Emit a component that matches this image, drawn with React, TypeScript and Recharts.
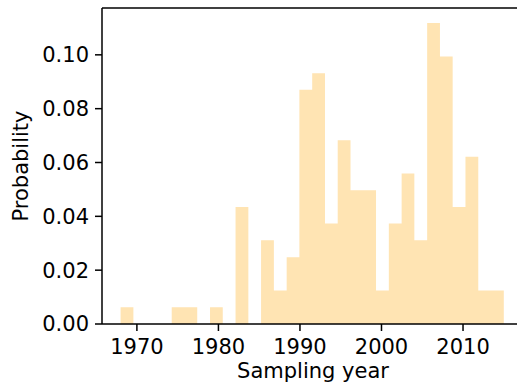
import React from 'react'
import { ComposedChart, Area, XAxis, YAxis, ReferenceLine } from 'recharts'

// histogram bin edges (years), 30 bins between 1968 and 2015
const binEdges = [
  1968.0, 1969.57, 1971.13, 1972.7, 1974.27, 1975.83, 1977.4, 1978.97, 1980.53, 1982.1,
  1983.67, 1985.23, 1986.8, 1988.37, 1989.93, 1991.5, 1993.07, 1994.63, 1996.2, 1997.77,
  1999.33, 2000.9, 2002.47, 2004.03, 2005.6, 2007.17, 2008.73, 2010.3, 2011.87, 2013.43, 2015.0,
]

// probability per bin
const probability = [
  0.0062, 0, 0, 0, 0.0062, 0.0062, 0, 0.0062, 0, 0.0435,
  0, 0.0311, 0.0124, 0.0248, 0.087, 0.0932, 0.0373, 0.0683, 0.0497, 0.0497,
  0.0124, 0.0373, 0.0559, 0.0311, 0.1118, 0.0994, 0.0435, 0.0621, 0.0124, 0.0124,
]

const xTicks = [1970, 1980, 1990, 2000, 2010]
const yTicks = [0, 0.02, 0.04, 0.06, 0.08, 0.1]

// the right spine sits just outside the picture, so the visible window stops at the edge
const X_DOMAIN = [1965.72, 2016.62]
const Y_MAX = 0.1174
const FONT = '"DejaVu Sans", sans-serif'
const BAR_FILL = '#ffe4b3'

// step data: each edge holds the value of the bin to its right, last edge repeats the last bin
const data = binEdges.map((year, i) => ({
  year,
  p: i < probability.length ? probability[i] : probability[probability.length - 1],
}))

const YLabel = ({ viewBox }: any) => {
  const cy = viewBox.y + viewBox.height / 2
  return (
    <text x={28} y={cy} transform={`rotate(-90, 28, ${cy})`} textAnchor="middle" fill="#000" fontSize={21} fontFamily={FONT}>
      Probability
    </text>
  )
}

const XLabel = () => (
  <text x={313} y={378} textAnchor="middle" fill="#000" fontSize={21} fontFamily={FONT}>
    Sampling year
  </text>
)

export default function App() {
  return (
    <div style={{ position: 'absolute', left: 0, top: 0, width: 517, height: 390, overflow: 'hidden', background: '#fff' }}>
      <ComposedChart
        width={517}
        height={390}
        data={data}
        margin={{ top: 8, right: 0, bottom: 0, left: 0 }}
        style={{ fontFamily: FONT }}
      >
        <XAxis
          dataKey="year"
          type="number"
          domain={X_DOMAIN}
          ticks={xTicks}
          allowDataOverflow
          height={66}
          tickSize={7}
          tickMargin={8}
          stroke="#000"
          strokeWidth={1.5}
          tick={{ fill: '#000', fontSize: 21, fontFamily: FONT }}
          label={<XLabel />}
        />
        <YAxis
          type="number"
          domain={[0, Y_MAX]}
          ticks={yTicks}
          allowDataOverflow
          width={102}
          tickSize={7}
          tickMargin={6}
          stroke="#000"
          strokeWidth={1.5}
          tick={{ fill: '#000', fontSize: 21, fontFamily: FONT }}
          tickFormatter={(v: number) => v.toFixed(2)}
          label={<YLabel />}
        />
        <Area
          type="stepAfter"
          dataKey="p"
          stroke="none"
          fill={BAR_FILL}
          fillOpacity={1}
          isAnimationActive={false}
          dot={false}
          activeDot={false}
        />
        <ReferenceLine y={Y_MAX} stroke="#000" strokeWidth={1.5} ifOverflow="visible" />
      </ComposedChart>
    </div>
  )
}
